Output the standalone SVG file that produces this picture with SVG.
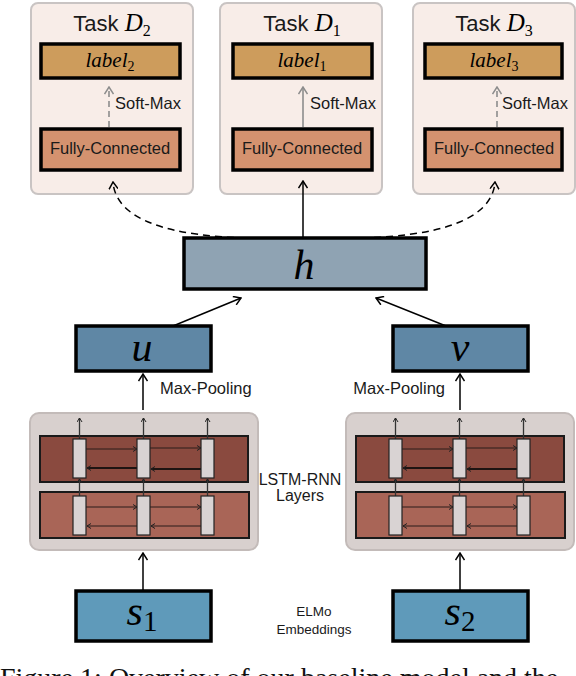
<svg xmlns="http://www.w3.org/2000/svg" xmlns:xlink="http://www.w3.org/1999/xlink" width="576" height="676" viewBox="0 0 576 676">
<style>
.task{fill:#f8ede8;stroke:#c9c4c3;stroke-width:2}
.box{stroke:#000;stroke-width:3.5}
.lab{fill:#cd9c5c}
.fc{fill:#d4926f}
.hbox{fill:#8fa3b3}
.uv{fill:#5f87a5}
.sb{fill:#5f9aba}
.sans{font-family:"Liberation Sans",Arial,sans-serif;fill:#1a1a1a}
.math{font-family:"Liberation Serif","Times New Roman",serif;font-style:italic;fill:#000}
.num{font-family:"Liberation Serif","Times New Roman",serif;fill:#000}
.con{fill:none;stroke:#000;stroke-width:1.5}
.dash{stroke-dasharray:7 5}
.soft{fill:none;stroke:#8c8c8c;stroke-width:1.6}
.outer{fill:#d8d0ce;stroke:#c3bbb9;stroke-width:2}
.l1{fill:#8a4a3f;stroke:#1a1a1a;stroke-width:2}
.l2{fill:#a96557;stroke:#1a1a1a;stroke-width:2}
.cell{fill:#d9d3d3;stroke:#222;stroke-width:1.2}
.th{fill:none;stroke:#2b1d1b;stroke-width:1}
.tk{fill:none;stroke:#1e1412;stroke-width:2}
.vl{fill:none;stroke:#333;stroke-width:1.3}
</style>
<defs>
<marker id="arr" viewBox="-8 -5 9 10" refX="0" refY="0" markerWidth="9" markerHeight="10" markerUnits="userSpaceOnUse" orient="auto">
<path d="M-7,-4.5 L0,0 L-7,4.5" fill="none" stroke="#000" stroke-width="1.5"/>
</marker>
<marker id="arrG" viewBox="-8 -5 9 10" refX="0" refY="0" markerWidth="9" markerHeight="10" markerUnits="userSpaceOnUse" orient="auto">
<path d="M-7,-4.5 L0,0 L-7,4.5" fill="none" stroke="#8c8c8c" stroke-width="1.5"/>
</marker>
<marker id="arrS" viewBox="-5 -3 6 6" refX="0" refY="0" markerWidth="6" markerHeight="6" markerUnits="userSpaceOnUse" orient="auto">
<path d="M-4,-2.5 L0,0 L-4,2.5" fill="none" stroke="#222" stroke-width="1"/>
</marker>
<g id="lstm">
<rect class="outer" x="0" y="0" width="228" height="137" rx="9"/>
<rect class="l1" x="10" y="23" width="208" height="46"/>
<rect class="l2" x="10" y="79" width="209" height="46"/>
<path class="vl" d="M49.5,26 V5" marker-end="url(#arrS)"/>
<path class="vl" d="M113.5,26 V5" marker-end="url(#arrS)"/>
<path class="vl" d="M177.5,26 V5" marker-end="url(#arrS)"/>
<path class="vl" d="M49.5,83 V66" marker-end="url(#arrS)"/>
<path class="vl" d="M113.5,83 V66" marker-end="url(#arrS)"/>
<path class="vl" d="M177.5,83 V66" marker-end="url(#arrS)"/>
<path class="th" d="M56,36 H107" marker-end="url(#arrS)"/>
<path class="th" d="M120,35 H171" marker-end="url(#arrS)"/>
<path class="tk" d="M107,55 H57" marker-end="url(#arrS)"/>
<path class="tk" d="M171,56 H121" marker-end="url(#arrS)"/>
<path class="th" d="M56,94 H107" marker-end="url(#arrS)"/>
<path class="th" d="M120,94 H171" marker-end="url(#arrS)"/>
<path class="th" d="M107,113 H57" marker-end="url(#arrS)"/>
<path class="th" d="M171,113 H121" marker-end="url(#arrS)"/>
<rect class="cell" x="43" y="26" width="13" height="39"/>
<rect class="cell" x="107" y="26" width="13" height="39"/>
<rect class="cell" x="171" y="26" width="13" height="39"/>
<rect class="cell" x="43" y="83" width="13" height="39"/>
<rect class="cell" x="107" y="83" width="13" height="39"/>
<rect class="cell" x="171" y="83" width="13" height="39"/>
</g>
</defs>

<g id="task2">
<rect class="task" x="31" y="3" width="162" height="191" rx="7"/>
<text x="112" y="31" text-anchor="middle"><tspan class="sans" font-size="22">Task </tspan><tspan class="math" font-size="25">D</tspan><tspan class="num" font-size="16" dy="5">2</tspan></text>
<rect class="box lab" x="41" y="44" width="139" height="34"/>
<text x="110" y="67" text-anchor="middle"><tspan class="math" font-size="21">label</tspan><tspan class="num" font-size="14" dy="4">2</tspan></text>
<path class="soft" d="M109,127 V87" stroke-dasharray="6 4" marker-end="url(#arrG)"/>
<text class="sans" x="115" y="109" font-size="16.5">Soft-Max</text>
<rect class="box fc" x="41" y="129" width="139" height="41"/>
<text class="sans" x="110" y="154" font-size="16.5" text-anchor="middle">Fully-Connected</text>
</g>

<g id="task1">
<rect class="task" x="220" y="3" width="162" height="191" rx="7"/>
<text x="302" y="31" text-anchor="middle"><tspan class="sans" font-size="22">Task </tspan><tspan class="math" font-size="25">D</tspan><tspan class="num" font-size="16" dy="5">1</tspan></text>
<rect class="box lab" x="233" y="44" width="139" height="34"/>
<text x="302" y="67" text-anchor="middle"><tspan class="math" font-size="21">label</tspan><tspan class="num" font-size="14" dy="4">1</tspan></text>
<path class="soft" d="M303,127 V87" marker-end="url(#arrG)"/>
<text class="sans" x="310" y="109" font-size="16.5">Soft-Max</text>
<rect class="box fc" x="233" y="129" width="139" height="41"/>
<text class="sans" x="302" y="154" font-size="16.5" text-anchor="middle">Fully-Connected</text>
</g>

<g id="task3">
<rect class="task" x="413" y="3" width="162" height="191" rx="7"/>
<text x="494" y="31" text-anchor="middle"><tspan class="sans" font-size="22">Task </tspan><tspan class="math" font-size="25">D</tspan><tspan class="num" font-size="16" dy="5">3</tspan></text>
<rect class="box lab" x="425" y="44" width="137" height="34"/>
<text x="494" y="67" text-anchor="middle"><tspan class="math" font-size="21">label</tspan><tspan class="num" font-size="14" dy="4">3</tspan></text>
<path class="soft" d="M497,127 V87" stroke-dasharray="6 4" marker-end="url(#arrG)"/>
<text class="sans" x="502" y="109" font-size="16.5">Soft-Max</text>
<rect class="box fc" x="425" y="129" width="137" height="41"/>
<text class="sans" x="494" y="154" font-size="16.5" text-anchor="middle">Fully-Connected</text>
</g>

<g id="h">
<rect class="box hbox" x="184" y="238" width="242" height="51"/>
<text class="math" x="304" y="279" font-size="42" text-anchor="middle">h</text>
</g>

<g id="u">
<rect class="box uv" x="76" y="326" width="135" height="45"/>
<text class="math" x="142" y="361" font-size="42" text-anchor="middle">u</text>
</g>

<g id="v">
<rect class="box uv" x="393" y="326" width="135" height="45"/>
<text class="math" x="460" y="361" font-size="42" text-anchor="middle">v</text>
</g>

<g id="lstm1">
<use xlink:href="#lstm" href="#lstm" x="30" y="413"/>
</g>
<g id="lstm2">
<use xlink:href="#lstm" href="#lstm" x="346" y="413"/>
</g>

<g id="s1">
<rect class="box sb" x="76" y="591" width="135" height="50"/>
<text x="142" y="625" text-anchor="middle"><tspan class="math" font-size="42">s</tspan><tspan class="num" font-size="29" dy="6">1</tspan></text>
</g>

<g id="s2">
<rect class="box sb" x="393" y="591" width="135" height="50"/>
<text x="460" y="625" text-anchor="middle"><tspan class="math" font-size="42">s</tspan><tspan class="num" font-size="29" dy="6">2</tspan></text>
</g>

<g id="labels">
<text class="sans" x="160" y="394" font-size="16.5">Max-Pooling</text>
<text class="sans" x="445" y="394" font-size="16.5" text-anchor="end">Max-Pooling</text>
<text class="sans" x="300" y="485" font-size="16" text-anchor="middle">LSTM-RNN</text>
<text class="sans" x="300" y="501" font-size="16" text-anchor="middle">Layers</text>
<text class="sans" x="314" y="616" font-size="13.5" text-anchor="middle">ELMo</text>
<text class="sans" x="314" y="634" font-size="13.5" text-anchor="middle">Embeddings</text>
</g>

<g id="connectors">
<path class="con" d="M303,238 V181" marker-end="url(#arr)"/>
<path class="con dash" d="M246,238 C175,236 116,222 113,182" marker-end="url(#arr)"/>
<path class="con dash" d="M362,238 C433,236 492,222 495,182" marker-end="url(#arr)"/>
<path class="con" d="M173,326 L241,298" marker-end="url(#arr)"/>
<path class="con" d="M446,326 L376,298" marker-end="url(#arr)"/>
<path class="con" d="M143,410 V374" marker-end="url(#arr)"/>
<path class="con" d="M460,410 V374" marker-end="url(#arr)"/>
<path class="con" d="M143,590 V553" marker-end="url(#arr)"/>
<path class="con" d="M460,590 V553" marker-end="url(#arr)"/>
</g>

<text x="0" y="687" font-family="Liberation Serif,Times New Roman,serif" font-size="28" fill="#111">Figure 1:  Overview  of  our  baseline  model  and  the</text>
</svg>
